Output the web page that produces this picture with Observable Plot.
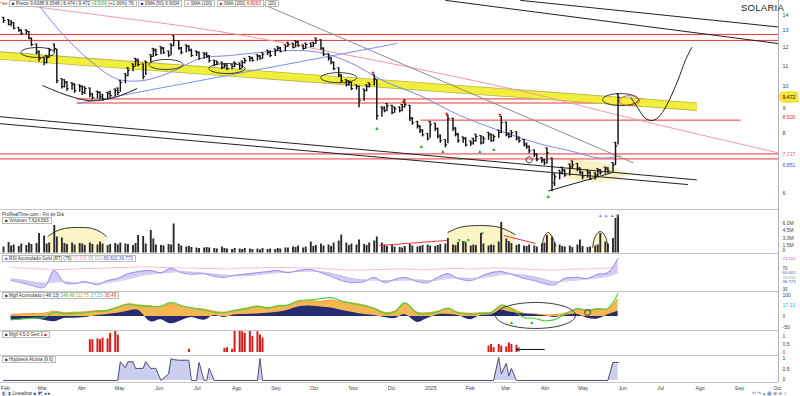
<!DOCTYPE html>
<html><head><meta charset="utf-8">
<script src="https://cdn.jsdelivr.net/npm/d3@7"></script>
<script src="https://cdn.jsdelivr.net/npm/@observablehq/plot@0.6"></script>
<style>
html,body{margin:0;padding:0;background:#fff;}
#root{position:relative;width:800px;height:396px;overflow:hidden;font-family:"Liberation Sans",Arial,sans-serif;background:#fff;}
.sep{position:absolute;left:0;width:778px;height:0;border-top:1px solid #c4c4c4;}
.vax{position:absolute;left:778px;top:0;width:1px;height:382px;background:#b0b0b0;}
.hdr{position:absolute;left:2px;font-size:4.6px;line-height:5px;color:#333;white-space:nowrap;}
.box{border:0.5px solid #bbb;padding:0 2px;background:#fff;}
</style></head><body><div id="root"></div>
<script>
// ---------- DATA ----------
const close = [13.65,13.39,13.52,13.14,13.01,12.83,12.95,12.53,12.17,11.72,
11.39,11.17,11.44,11.83,11.94,10.25,9.97,10.16,9.87,10.06,
9.78,9.97,9.69,9.87,9.59,9.46,9.69,9.50,9.41,9.64,
9.55,9.78,9.69,10.16,10.50,10.76,10.96,11.28,11.07,10.45,
11.17,11.50,11.83,11.61,11.94,11.72,11.55,12.11,12.41,11.94,
11.72,12.06,11.83,11.55,11.72,11.39,11.61,11.50,11.28,11.07,
11.17,10.91,11.01,10.86,10.96,11.12,10.86,11.17,11.28,11.39,
11.28,11.50,11.39,11.61,11.72,11.55,11.83,11.94,11.77,12.06,
12.17,12.00,12.29,12.11,11.94,12.17,12.06,12.23,12.41,11.94,
11.61,11.39,11.17,10.86,10.50,10.25,10.06,10.16,9.87,9.97,
9.32,9.78,9.97,10.06,10.35,8.68,8.97,8.89,9.10,8.81,
8.97,8.89,9.06,9.15,8.56,8.40,8.24,8.08,7.93,7.78,
8.32,8.16,7.86,7.71,7.56,8.56,8.16,7.93,7.71,7.78,
7.56,7.63,7.71,7.86,7.63,7.78,7.93,7.71,7.86,8.01,
8.40,7.93,7.86,8.01,7.78,7.71,7.56,7.49,7.35,7.21,
7.07,7.01,6.94,7.28,6.31,6.49,6.62,6.68,6.55,6.81,
6.87,6.74,6.62,6.49,6.62,6.43,6.55,6.68,6.62,6.74,
6.68,6.87,7.52,9.47];
const high = [13.85,13.70,13.62,13.50,13.20,13.05,13.05,12.95,12.55,12.20,
11.80,11.45,11.55,11.95,12.20,11.90,10.35,10.30,10.20,10.15,
10.10,10.05,10.00,9.95,9.90,9.65,9.75,9.72,9.60,9.70,
9.75,9.85,9.90,10.25,10.60,10.90,11.10,11.40,11.35,11.10,
11.25,11.60,11.95,11.90,12.05,12.00,11.80,12.20,12.70,12.40,
12.00,12.15,12.10,11.90,11.80,11.75,11.70,11.70,11.55,11.30,
11.25,11.20,11.10,11.05,11.05,11.20,11.15,11.25,11.40,11.50,
11.45,11.60,11.55,11.70,11.85,11.80,11.92,12.05,12.00,12.15,
12.30,12.25,12.40,12.35,12.15,12.25,12.25,12.30,12.55,12.45,
11.98,11.65,11.45,11.20,10.90,10.55,10.30,10.25,10.18,10.05,
9.98,9.85,10.05,10.15,10.55,10.30,9.05,9.05,9.20,9.12,
9.05,9.05,9.15,9.35,9.12,8.60,8.45,8.28,8.12,7.98,
8.45,8.38,8.18,7.92,7.75,8.70,8.58,8.20,7.98,7.85,
7.82,7.70,7.80,7.95,7.90,7.85,8.02,7.96,7.92,8.10,
8.65,8.42,8.00,8.08,8.05,7.85,7.75,7.62,7.52,7.38,
7.25,7.12,7.05,7.45,7.10,6.58,6.70,6.80,6.72,6.90,
7.00,6.92,6.78,6.65,6.70,6.65,6.62,6.75,6.72,6.80,
6.78,6.95,7.65,9.62];
const low = [13.45,13.30,13.25,13.05,12.90,12.70,12.75,12.45,12.05,11.60,
11.20,11.00,11.10,11.40,11.70,10.10,9.85,9.90,9.75,9.80,
9.65,9.70,9.55,9.60,9.45,9.35,9.40,9.38,9.30,9.38,
9.45,9.50,9.55,9.70,10.10,10.45,10.70,10.95,10.95,10.30,
10.50,11.15,11.45,11.50,11.60,11.60,11.45,11.55,12.05,11.85,
11.60,11.70,11.75,11.45,11.50,11.30,11.35,11.40,11.15,10.95,
11.00,10.80,10.85,10.75,10.80,10.90,10.78,10.85,11.10,11.20,
11.20,11.25,11.30,11.35,11.55,11.45,11.50,11.78,11.70,11.75,
12.00,11.92,11.98,12.02,11.85,11.90,11.98,12.00,12.18,11.85,
11.50,11.25,11.05,10.75,10.40,10.15,9.95,9.98,9.78,9.80,
9.02,9.30,9.72,9.90,10.00,8.50,8.62,8.80,8.85,8.72,
8.78,8.80,8.85,9.00,8.45,8.30,8.15,7.98,7.85,7.70,
7.80,8.05,7.78,7.62,7.45,7.60,8.05,7.85,7.62,7.62,
7.48,7.50,7.55,7.65,7.55,7.58,7.72,7.65,7.66,7.80,
7.98,7.85,7.78,7.82,7.70,7.62,7.48,7.40,7.25,7.12,
6.98,6.92,6.85,6.90,6.05,6.20,6.40,6.55,6.48,6.52,
6.75,6.65,6.55,6.40,6.45,6.38,6.40,6.50,6.55,6.58,
6.60,6.62,6.85,7.55];
const volume = [1.2,2.1,1.4,1.6,1.3,1.8,1.5,2.0,1.7,1.9,
3.9,3.4,1.8,2.0,5.5,3.2,3.0,1.9,1.7,2.0,
1.6,1.9,1.8,1.5,2.0,1.7,1.6,2.2,1.8,1.5,
1.7,1.9,1.6,2.0,1.8,1.7,1.5,1.9,3.5,3.3,
1.8,4.5,2.8,1.6,1.5,1.4,1.7,1.6,5.8,1.8,
1.4,1.2,1.3,1.1,1.0,0.9,1.0,1.1,1.0,0.9,
0.8,1.2,0.9,0.8,0.7,0.9,0.8,0.7,0.9,0.8,
0.7,0.8,0.6,0.9,0.7,0.8,0.7,0.9,0.8,1.0,
1.0,1.2,1.1,1.4,1.0,1.2,2.2,1.3,1.5,1.8,
1.4,1.6,1.3,2.0,2.4,3.6,2.0,1.5,1.8,1.6,
2.6,1.7,1.5,2.0,2.4,3.2,2.0,1.6,1.3,1.5,
1.2,1.1,1.0,1.3,1.7,1.4,1.2,1.3,1.5,1.6,
1.4,1.3,1.5,1.7,1.8,2.9,1.6,1.5,2.1,2.3,
2.0,1.4,1.6,1.5,3.9,1.8,1.4,1.6,1.5,2.2,
6.1,2.8,2.3,1.9,1.5,1.7,1.4,1.3,1.6,1.4,
1.2,1.8,2.0,3.5,3.2,2.0,1.6,1.3,1.2,1.4,
1.1,1.6,2.6,1.3,1.1,1.2,1.4,1.6,3.9,2.2,
1.8,2.9,6.9,7.6];

// indicator series (every 3rd bar)
const rsiA = [47,43,38,34,66,43,41,45,39,47,51,60,64,66,62,70,62,59,60,55,53,57,59,62,64,66,62,66,68,62,55,47,43,45,53,43,49,53,45,43,53,60,51,47,55,62,64,59,51,47,41,39,51,53,51,59,62,89];
const rsiB = [50,48,45,42,44,45,43,43,42,43,46,50,55,59,61,63,64,63,61,59,57,56,56,58,60,62,63,64,65,64,61,56,51,48,48,47,47,48,48,47,48,51,52,51,52,55,58,59,57,54,49,45,46,48,50,52,55,62];
const rsiC = [72,71,70,69,68,68,69,70,70,71,72,72,73,73,72,72,71,71,70,70,69,70,71,71,72,72,72,71,71,70,69,68,67,67,68,68,69,69,68,68,69,70,70,69,70,71,71,70,69,68,67,67,68,69,69,70,71,74];
const oscO = [10,12,14,15,25,18,20,22,28,30,45,60,55,50,45,62,48,40,35,25,20,30,38,50,42,48,52,70,75,72,78,70,65,55,40,20,25,62,20,18,25,38,20,15,18,20,50,40,15,12,8,8,15,35,30,38,35,86];
const oscN = [-20,-15,-10,-18,-25,-10,-8,-5,5,10,15,25,30,-25,-15,-35,-20,-5,-18,5,-5,8,10,12,15,20,30,45,50,45,40,30,20,10,5,-5,-10,10,-28,-10,8,10,5,-15,5,8,30,20,12,10,3,-5,5,10,-8,-12,8,25];
const oscG = [-15,-12,-8,-5,20,12,15,18,25,28,45,58,52,48,50,68,52,42,30,20,18,28,35,48,40,52,55,75,80,85,90,75,62,50,38,15,20,65,15,12,22,40,18,10,15,18,55,35,-5,-8,-20,-15,10,38,28,35,40,110];

const redIdx = [24,25,26,27,28,29,30,31,32,52,62,63,64,65,66,67,68,69,70,71,72,73,136,137,138,139,140,141,142,143,144];
const redV = [0.8,0.8,0.85,0.8,0.9,0.85,1.2,1.35,1.1,0.2,0.25,0.3,0.2,1.4,1.5,1.3,1.2,1.45,1.0,1.3,1.1,0.9,0.4,0.5,0.3,0.5,0.4,0.35,0.6,0.5,0.45];
const hypIdx = [0,32,33,34,35,36,37,38,39,40,41,42,43,44,46,47,48,49,50,51,52,53,54,55,56,57,58,59,71,72,73,138,139,140,141,142,143,144,170,171,172,173];
const hypV = [0,0,.85,.58,.85,.85,.55,.55,.55,.85,.55,.55,.55,0,.3,1.0,.95,.92,.92,.92,.92,0,0,.82,0,0,.55,0,0,1.0,0,0,1.05,.3,.78,.2,.55,0,0,.82,.82,.82];

// annotations (date, price)
const hlPrice = [12.77,12.41,9.40,9.22,8.50,7.24,7.07];
const hlFrom = ["2024-01-29","2024-01-29","2024-03-30","2024-03-30","2024-12-26","2024-01-29","2024-01-29"];
const hlTo = ["2025-10-04","2025-10-04","2025-06-20","2025-06-20","2025-09-04","2025-10-04","2025-10-04"];
const bandDates = ["2024-01-29","2025-07-31"];
const bandPrices = [11.55,9.06];
const segD1 = ["2025-01-14","2025-03-14","2024-01-29","2024-01-29","2024-08-16","2024-03-30","2025-04-05"];
const segP1 = [15.01,15.01,8.64,8.36,15.01,9.19,6.07];
const segD2 = ["2025-10-03","2025-10-03","2025-07-31","2025-07-24","2025-06-11","2024-12-07","2025-05-25"];
const segP2 = [12.23,13.23,6.40,6.26,6.94,12.23,6.62];
const segColor = ["#222","#222","#222","#222","#8c8c8c","#7d8fe6","#222"];
const ma200Dates = ["2024-01-29","2024-04-17","2024-07-15","2024-10-31","2025-01-18","2025-03-30","2025-06-01","2025-08-03","2025-10-03"];
const ma200 = [14.87,13.99,13.01,11.55,10.50,9.55,8.68,7.93,7.28];
const ma50Dates = ["2024-02-26","2024-03-16","2024-04-09","2024-04-30","2024-05-20","2024-06-11","2024-07-05","2024-07-28","2024-08-21","2024-09-14","2024-10-07","2024-10-31","2024-11-26","2024-12-25","2025-01-26","2025-02-26","2025-03-29","2025-04-22","2025-05-16","2025-06-01"];
const ma50 = [15.01,13.01,11.28,10.35,10.25,10.65,11.39,11.55,11.72,11.83,11.72,11.17,10.25,9.55,8.68,8.08,7.60,7.35,7.10,7.17];
const arcDates = ["2024-03-03","2024-03-16","2024-03-28","2024-04-09","2024-04-21","2024-05-03","2024-05-16"];
const arcPrices = [10.01,9.69,9.46,9.32,9.37,9.55,9.87];
const curveDates = ["2025-06-09","2025-06-15","2025-06-20","2025-06-26","2025-07-02","2025-07-09","2025-07-16","2025-07-22","2025-07-27"];
const curvePrices = [9.46,8.97,8.60,8.48,8.68,9.32,10.25,11.28,12.0];
const wedgeDates = ["2025-04-20","2025-05-20","2025-06-10","2025-05-16","2025-04-20"];
const wedgePrices = [7.10,6.94,6.55,6.34,6.43];
const ellDates = ["2024-02-28","2024-06-08","2024-07-26","2024-10-22","2025-06-01","2025-06-08","2025-03-21"];
const ellPrices = [11.72,11.07,10.86,10.40,9.37,9.32,7.04];
const ellRx = [17,17,18,18,18,10,3];
const ellRy = [5,5,5,5,6,5,3];
const ellColor = ["#222","#222","#222","#222","#222","#d04444","#222"];
const sellDates = ["2024-11-18","2024-12-12","2025-01-15","2025-02-26"];
const sellPrices = [10.60,9.24,8.76,8.68];
const buyDates = ["2024-11-21","2024-12-26","2025-01-12","2025-01-25","2025-02-10","2025-02-21","2025-04-05"];
const buyPrices = [8.16,7.52,7.35,7.10,7.35,7.42,5.93];
const priceTicks = [6,7,8,9,10,11,12,13,14];
const tagPrices = [9.472,8.60,7.24,6.85];
const tagText = ["9.472","8.500","7.237","6.851"];
const tagFg = ["#111","#e03030","#e06a7a","#4a50c8"];
const tagBg = ["#f2e43a","#fff","#fff","#fff"];

const domeId = [1,1,1,1,1,1,1,2,2,2,2,2,3,3,3,3,3,4,4,4,4,4];
const domeDates = ["2024-03-07","2024-03-13","2024-03-20","2024-04-01","2024-04-11","2024-04-18","2024-04-22",
"2025-01-16","2025-01-25","2025-02-10","2025-02-26","2025-03-10",
"2025-03-31","2025-04-02","2025-04-05","2025-04-08","2025-04-11",
"2025-05-10","2025-05-12","2025-05-16","2025-05-20","2025-05-22"];
const domeV = [3.3,4.3,4.9,5.1,4.9,4.1,3.3, 4.1,5.1,5.5,5.1,3.7, 1.3,3.3,4.1,3.3,1.3, 1.1,3.3,4.3,3.3,1.1];
const volLineD1 = ["2024-11-23","2025-03-01"], volLineV1 = [1.5,3.5];
const volLineD2 = ["2025-01-15","2025-03-26"], volLineV2 = [2.5,1.9];
const volMarkDates = ["2025-01-25","2025-01-29","2025-02-01","2025-02-12"];
const volMarkV = [2.5,2.1,2.5,3.9];
const volTicks = [1.5,3,4.5,6];

const monthLabels = ["Feb","Mar","Abr","May","Jun","Jul","Ago","Sep","Oct","Nov","Dic","2025","Feb","Mar","Abr","May","Jun","Jul","Ago","Sep","Oct"];
const monthDates = ["2024-02-01","2024-03-01","2024-04-01","2024-05-01","2024-06-01","2024-07-01","2024-08-01","2024-09-01","2024-10-01","2024-11-01","2024-12-01","2025-01-01","2025-02-01","2025-03-01","2025-04-01","2025-05-01","2025-06-01","2025-07-01","2025-08-01","2025-09-01","2025-10-01"];

// ---------- BUILD ----------
const D = s => new Date(s);
const start = new Date(Date.UTC(2024,1,1));
function addWeekdays(d, n){ let r = new Date(d), c = 0; while (c < n){ r = new Date(r.getTime()+86400000); const w = r.getUTCDay(); if (w!==0 && w!==6) c++; } return r; }
const barDates = close.map((_, i) => addWeekdays(start, 2*i));
const bars = close.map((c,i)=>({date:barDates[i], c, h:high[i], l:low[i], v:volume[i]}));
const indDates = barDates.filter((d,i)=> (173-i)%3===0);
const ind = indDates.map((d,k)=>({x:d, a:rsiA[k], b:rsiB[k], c:rsiC[k], o:oscO[k], n:oscN[k], g:oscG[k]}));
const pts = (ds, vs, extra={}) => ds.map((d,i)=>({x:D(d), y:vs[i], ...Object.fromEntries(Object.entries(extra).map(([k,a])=>[k,a[i]]))}));

const root = document.getElementById("root");
const FONT = "Liberation Sans, Arial, sans-serif";
const X = {type:"utc", domain:[D("2024-02-01"), D("2025-10-01")], range:[3,775], axis:null};
function panel(top, height, y, marks){
  const svg = Plot.plot({width:800, height, marginTop:0, marginBottom:0, marginLeft:0, marginRight:22,
    x:X, y:{...y, axis:null}, color:{type:"identity"}, style:{fontFamily:FONT, background:"transparent"}, marks});
  svg.style.position="absolute"; svg.style.left="0px"; svg.style.top=top+"px";
  root.appendChild(svg);
}
const axisText = (vals, fmt, opts={}) => Plot.text(vals, {y:d=>d, text:fmt, frameAnchor:"right", dx:4, textAnchor:"start", fontSize:5.5, fill:"#444", ...opts});
function ellSym(rx, ry){ const k=0.5523; return {draw(c){ c.moveTo(rx,0); c.bezierCurveTo(rx,ry*k,rx*k,ry,0,ry); c.bezierCurveTo(-rx*k,ry,-rx,ry*k,-rx,0); c.bezierCurveTo(-rx,-ry*k,-rx*k,-ry,0,-ry); c.bezierCurveTo(rx*k,-ry,rx,-ry*k,rx,0); c.closePath(); }}; }

// main price panel
const segs = segD1.map((d,i)=>({x1:D(d), y1:segP1[i], x2:D(segD2[i]), y2:segP2[i], c:segColor[i]}));
const hls = hlPrice.map((p,i)=>({y:p, x1:D(hlFrom[i]), x2:D(hlTo[i])}));
const ellMarks = ellDates.map((d,i)=>Plot.dot([{x:D(d), y:ellPrices[i]}], {x:"x", y:"y", r:4, symbol:ellSym(ellRx[i], ellRy[i]), fill:"none", stroke:ellColor[i], strokeWidth:0.9}));
const tags = tagPrices.map((p,i)=>({p, t:tagText[i], fg:tagFg[i], bg:tagBg[i]}));
panel(0, 209, {type:"log", domain:[6,12], range:[193,47]}, [
  Plot.line(pts(wedgeDates, wedgePrices), {x:"x", y:"y", fill:"#f9f0bd", stroke:"none", fillOpacity:0.9}),
  Plot.ruleY(hls, {y:"y", x1:"x1", x2:"x2", stroke:"#ec3434", strokeWidth:1}),
  Plot.line(pts(bandDates, bandPrices), {x:"x", y:"y", stroke:"#b8b64a", strokeWidth:8.5, strokeLinecap:"butt"}),
  Plot.line(pts(bandDates, bandPrices), {x:"x", y:"y", stroke:"#f2ee3c", strokeWidth:6.8, strokeLinecap:"butt"}),
  Plot.line(pts(ma200Dates, ma200), {x:"x", y:"y", stroke:"#ee9aa4", strokeWidth:1, curve:"catmull-rom"}),
  Plot.line(pts(ma50Dates, ma50), {x:"x", y:"y", stroke:"#7f86e2", strokeWidth:1, curve:"catmull-rom", clip:true}),
  Plot.link(segs, {x1:"x1", y1:"y1", x2:"x2", y2:"y2", stroke:"c", strokeWidth:1, clip:true}),
  Plot.ruleX(bars, {x:"date", y1:"l", y2:"h", stroke:"#111", strokeWidth:1.45}),
  Plot.link(bars, {x1:"date", x2:d=>d3.utcHour.offset(d.date, 36), y1:"c", y2:"c", stroke:"#111", strokeWidth:1}),
  Plot.link(bars, {x1:d=>d3.utcHour.offset(d.date, -36), x2:"date", y1:"h", y2:"h", stroke:"#111", strokeWidth:0.8}),
  Plot.line(pts(arcDates, arcPrices), {x:"x", y:"y", stroke:"#222", strokeWidth:1, curve:"natural"}),
  ...ellMarks,
  Plot.line(pts(curveDates, curvePrices), {x:"x", y:"y", stroke:"#222", strokeWidth:1, curve:"catmull-rom"}),
  Plot.text(pts(sellDates, sellPrices), {x:"x", y:"y", text:()=>"▼", fill:"#e02020", fontSize:5.5}),
  Plot.text(pts(buyDates, buyPrices), {x:"x", y:"y", text:()=>"▲", fill:"#27a836", fontSize:5.5}),
  axisText(priceTicks, d=>String(d)),
  Plot.text(tags, {y:"p", text:"t", fill:"fg", stroke:"bg", strokeWidth:7, paintOrder:"stroke", strokeLinejoin:"miter", frameAnchor:"right", dx:4, textAnchor:"start", fontSize:5.2})
]);

// volume panel
const domes = pts(domeDates, domeV, {id:domeId});
panel(210, 43, {domain:[0,6], range:[42.5,12.5]}, [
  Plot.areaY(domes, {x:"x", y:"y", z:"id", fill:"#fbf4c6", curve:"catmull-rom"}),
  Plot.ruleX(bars, {x:"date", y1:0, y2:"v", stroke:"#2a2a2a", strokeWidth:1.9}),
  Plot.line(domes, {x:"x", y:"y", z:"id", stroke:"#222", strokeWidth:0.9, curve:"catmull-rom"}),
  Plot.link([{x1:D(volLineD1[0]), y1:volLineV1[0], x2:D(volLineD2[0]), y2:volLineV2[0]},
             {x1:D(volLineD1[1]), y1:volLineV1[1], x2:D(volLineD2[1]), y2:volLineV2[1]}], {x1:"x1", y1:"y1", x2:"x2", y2:"y2", stroke:"#e33", strokeWidth:1}),
  Plot.text(pts(volMarkDates, volMarkV), {x:"x", y:"y", text:()=>"▼", fill:"#2aa83a", fontSize:5}),
  axisText(volTicks, d=>d.toFixed(1)+"M", {fontSize:5}),
  axisText([0], ()=>"0", {dy:-2.5, fontSize:5})
]);

// RSI-like panel
panel(253, 38, {domain:[30,70], range:[36,15]}, [
  Plot.areaY(ind, {x:"x", y1:"b", y2:"a", fill:"#d3cbf6", curve:"catmull-rom"}),
  Plot.line(ind, {x:"x", y:"c", stroke:"#f3b0c8", strokeWidth:0.8, curve:"catmull-rom"}),
  Plot.line(ind, {x:"x", y:"b", stroke:"#c4bde8", strokeWidth:0.8, curve:"catmull-rom"}),
  Plot.line(ind, {x:"x", y:"a", stroke:"#9c8ce8", strokeWidth:1, curve:"catmull-rom"}),
  axisText([70,30], d=>String(d), {fontSize:4.6}),
  Plot.text([{p:88,t:"73.105",f:"#a24ee0"},{p:61.5,t:"60.602",f:"#4a50c8"},{p:53.5,t:"56.610",f:"#999"},{p:45,t:"36.773",f:"#4a50c8"}],
    {y:"p", text:"t", fill:"f", frameAnchor:"right", dx:4, textAnchor:"start", fontSize:4.3})
]);

// oscillator panel
panel(291, 39, {domain:[0,100], range:[25,4]}, [
  Plot.areaY(ind, {x:"x", y:"o", fill:"#f6b654", curve:"catmull-rom"}),
  Plot.line(ind, {x:"x", y:"o", stroke:"#e0962a", strokeWidth:0.6, curve:"catmull-rom"}),
  Plot.areaY(ind, {x:"x", y:"n", fill:"#272c70", curve:"catmull-rom"}),
  Plot.line(ind, {x:"x", y:"g", stroke:"#45cf3c", strokeWidth:1.1, curve:"catmull-rom"}),
  Plot.dot([{x:D("2025-03-26"), y:5}], {x:"x", y:"y", r:4, symbol:ellSym(40,13), fill:"none", stroke:"#222", strokeWidth:0.9}),
  Plot.dot([{x:D("2025-05-06"), y:19}], {x:"x", y:"y", r:3, fill:"none", stroke:"#222", strokeWidth:0.8}),
  Plot.text(pts(["2025-03-07","2025-03-23"], [-29,-29]), {x:"x", y:"y", text:()=>"▲", fill:"#27a836", fontSize:5}),
  axisText([100,0,-50], d=>String(d), {fontSize:5}),
  Plot.text([{p:52,t:"17.13"}], {y:"p", text:"t", fill:"#2bb6c8", frameAnchor:"right", dx:4, textAnchor:"start", fontSize:5})
]);

// red bars panel
const reds = redIdx.map((i,k)=>({x:barDates[i], v:redV[k]}));
panel(330, 25, {domain:[0,1], range:[22,6]}, [
  Plot.ruleX(reds, {x:"x", y1:0, y2:"v", stroke:"#d41c1c", strokeWidth:2}),
  Plot.arrow([{x1:D("2025-04-02"), x2:D("2025-03-11"), y:0.19}], {x1:"x1", x2:"x2", y1:"y", y2:"y", stroke:"#111", strokeWidth:1, headLength:5}),
  axisText([1,0.5], d=>String(d), {fontSize:5}),
  axisText([0], ()=>"0", {fill:"#e03030", fontSize:5})
]);

// lavender area panel
const hyp = hypIdx.map((i,k)=>({x:barDates[i], y:hypV[k]}));
panel(355, 27, {domain:[0,1], range:[25,3]}, [
  Plot.areaY(hyp, {x:"x", y:"y", fill:"#cdcdee"}),
  Plot.line(hyp, {x:"x", y:"y", stroke:"#4f4f7a", strokeWidth:1}),
  axisText([1,0.5], d=>String(d), {fontSize:5}),
  axisText([0], ()=>"0", {fontSize:5, dy:-1.5})
]);

// x axis
panel(382, 14, {domain:[0,1], range:[14,0]}, [
  Plot.text(monthDates, {x:d=>D(d), text:(d,i)=>monthLabels[i], frameAnchor:"middle", dy:-1, dx:2, fontSize:5.2, fill:"#444"})
]);

// separators & headers (decoration)
[209,253,291,330,355,382].forEach(t=>{ const s=document.createElement("div"); s.className="sep"; s.style.top=t+"px"; root.appendChild(s); });
const vx=document.createElement("div"); vx.className="vax"; root.appendChild(vx);
function hdr(top, html, left=2){ const h=document.createElement("div"); h.className="hdr"; h.style.top=top+"px"; h.style.left=left+"px"; h.innerHTML=html; root.appendChild(h); }
hdr(0.5, '<span style="color:#3b3">●</span><span style="color:#e77">●</span> <span class="box">■ Precio 9.6388 9.3548 | 8.474 | 9.472 <span style="color:#2a2">+9.50%</span> (+1.06%) 76</span> <span class="box"><span style="color:#22288a">■</span> SMA (50) 6.9004</span> <span class="box"><span style="color:#f29ab0">■</span> SMA (100)</span> <span class="box"><span style="color:#e22">■</span> SMA (200) <span style="color:#e22">8.8063</span></span> <span class="box">(20)</span>');
hdr(212, 'ProRealTime.com - Fin de Día');
hdr(218, '<span class="box">■ Volumen 7.624.563</span>');
hdr(256, '<span class="box"><span style="color:#a24ee0">■</span> RSI Acumulado Gold (RT) (75) <span style="color:#f3a0c8">73.105</span> <span style="color:#aaa">56.610</span> <span style="color:#4a50c8">60.602 36.773</span></span>');
hdr(293, '<span class="box">■ Mgif Acumulado (-48 13) <span style="color:#3b3">146.49</span> <span style="color:#e0962a">111.75</span> <span style="color:#2bb6c8">17.13</span> <span style="color:#e33">-30.49</span></span>');
hdr(332, '<span class="box">■ Mgif 4.5.0 Geo 1 <span style="color:#e22">■</span></span>');
hdr(357, '<span class="box">■ Hipótesis Alcista (9.6)</span>');
hdr(213, '<span style="color:#6a8fd8">▲ ▲ ▲</span> <span style="color:#999">■</span>', 598);
hdr(390.5, '<span style="color:#5577aa">◧ ▮</span> Linealizar <span style="color:#3355cc">■ ◩</span> ◂ ▸');
hdr(390.5, '<span style="color:#5577aa">↶ ↷ ▴ ▦ ⊕ ⊖ ▿</span>', 752);
const t=document.createElement("div"); t.textContent="SOLARIA"; t.style.cssText="position:absolute;left:741px;top:2px;font-size:9.6px;color:#222;font-family:'Liberation Sans',Arial,sans-serif;letter-spacing:0.2px;"; root.appendChild(t);
</script></body></html>
